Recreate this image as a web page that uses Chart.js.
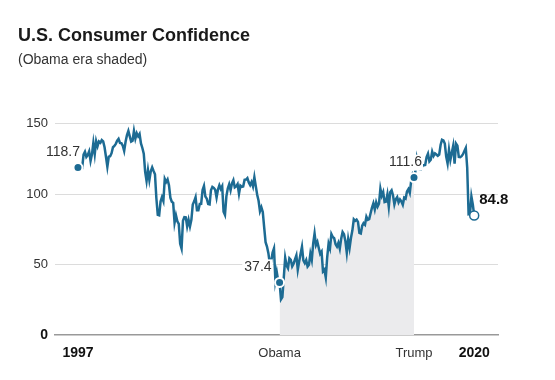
<!DOCTYPE html>
<html>
<head>
<meta charset="utf-8">
<script src="https://cdn.jsdelivr.net/npm/chart.js@4.4.1/dist/chart.umd.min.js"></script>
<style>
  body { margin: 0; background: #fff; }
  #wrap { width: 555px; height: 380px; }
</style>
</head>
<body>
<div id="wrap"><canvas id="confChart"></canvas></div>
<script>
// Conference Board consumer confidence, monthly, Jan 1997 - Aug 2020
const startYear = 1997;
const confidence = [
  118.7, 118.9, 118.5, 118.5, 127.9, 129.9, 126.3, 127.6, 130.2, 123.4, 128.1, 136.2, // 1997
  128.3, 137.4, 133.8, 137.2, 136.3, 138.2, 137.2, 133.1, 126.4, 119.3, 126.4, 126.7, // 1998
  128.9, 133.1, 134.0, 135.5, 137.7, 139.0, 136.2, 136.0, 134.2, 130.5, 137.0, 141.7, // 1999
  144.7, 140.8, 137.1, 137.7, 144.7, 139.2, 143.0, 140.8, 142.5, 135.8, 132.6, 128.6, // 2000
  115.7, 109.2, 116.9, 109.9, 116.1, 118.9, 116.3, 114.0, 97.0, 85.3, 84.9, 94.6,      // 2001
  97.8, 95.0, 110.7, 108.5, 110.3, 106.3, 97.4, 94.5, 93.7, 79.6, 84.9, 80.7,          // 2002
  78.8, 64.8, 61.4, 81.0, 83.6, 83.5, 77.0, 81.7, 77.0, 81.7, 92.5, 94.8,              // 2003
  97.7, 88.5, 88.5, 93.0, 93.1, 102.8, 105.7, 98.2, 96.7, 92.9, 92.6, 102.7,           // 2004
  105.1, 104.4, 103.0, 97.5, 103.1, 106.2, 103.6, 105.5, 87.5, 85.2, 98.3, 103.8,      // 2005
  106.8, 102.7, 107.5, 109.8, 104.7, 105.4, 107.0, 100.2, 105.9, 105.1, 105.3, 110.0,  // 2006
  110.2, 111.2, 108.2, 106.3, 108.5, 105.3, 111.9, 105.6, 99.5, 95.2, 87.8, 90.6,      // 2007
  87.3, 76.4, 65.9, 62.8, 58.1, 51.0, 51.9, 58.5, 61.4, 38.8, 44.7, 38.6,              // 2008
  37.4, 25.3, 26.9, 40.8, 54.8, 49.3, 47.4, 54.5, 53.4, 48.7, 50.6, 53.6,              // 2009
  56.5, 46.4, 52.3, 57.7, 62.7, 52.9, 51.0, 53.2, 48.6, 49.9, 57.8, 53.3,              // 2010
  64.8, 72.0, 63.8, 66.0, 61.7, 57.6, 59.2, 45.2, 46.4, 40.9, 55.2, 64.8,              // 2011
  61.5, 71.6, 69.5, 68.7, 64.4, 62.7, 65.4, 61.3, 68.4, 73.1, 71.5, 66.7,              // 2012
  58.4, 68.0, 61.9, 69.0, 74.3, 82.1, 81.0, 81.8, 80.2, 72.4, 72.0, 77.5,              // 2013
  79.4, 78.3, 83.9, 81.7, 82.2, 86.4, 90.3, 93.4, 89.0, 94.1, 91.0, 93.1,              // 2014
  103.8, 98.8, 101.4, 94.3, 94.6, 99.8, 91.0, 101.3, 102.6, 99.1, 92.6, 96.3,          // 2015
  97.8, 94.0, 96.1, 94.7, 92.4, 97.4, 96.7, 101.8, 103.5, 100.8, 109.4, 113.7,         // 2016
  111.6, 116.1, 124.9, 119.4, 117.6, 117.3, 120.0, 120.4, 120.6, 126.2, 128.6, 123.1,  // 2017
  124.3, 130.0, 127.0, 128.8, 128.0, 127.1, 127.9, 134.7, 138.4, 137.9, 135.7, 126.6,  // 2018
  121.7, 131.4, 124.2, 129.2, 134.1, 121.5, 135.7, 134.2, 126.3, 126.1, 126.8, 128.2,  // 2019
  130.4, 132.6, 118.8, 85.7, 85.9, 98.3, 92.6, 84.8                                    // 2020
];

// months since Jan 1997
const obamaStart = 144;   // Jan 2009
const trumpStart = 240;   // Jan 2017
const lastMonth = confidence.length - 1;

const tickMonths = [0, obamaStart, trumpStart, lastMonth];
const tickLabels = ["1997", "Obama", "Trump", "2020"];
const boldTicks = ["1997", "2020"];

const calloutMonths = [0, obamaStart, trumpStart, lastMonth];

const yTicks = [0, 50, 100, 150];

const lineColor = "#1d6b93";
const fontFamily = "'Liberation Sans', Arial, sans-serif";

let linePoints = confidence.map((v, i) => ({ x: i, y: v }));
let shadePoints = confidence.map((v, i) => ({ x: i, y: (i >= obamaStart && i <= trumpStart) ? v : null }));

// labels next to the highlighted points
const calloutPlugin = {
  id: "callouts",
  afterDatasetsDraw(chart) {
    let ctx = chart.ctx;
    let xs = chart.scales.x, ys = chart.scales.y;
    calloutMonths.forEach(m => {
      let v = confidence[m];
      let px = xs.getPixelForValue(m), py = ys.getPixelForValue(v);
      let text = v.toFixed(1);
      let isLast = m === lastMonth;
      ctx.save();
      ctx.font = isLast ? "bold 15px " + fontFamily : "14px " + fontFamily;
      ctx.textBaseline = "middle";
      let w = ctx.measureText(text).width;
      let tx, ty;
      if (isLast) { tx = px + 5; ty = py - 16; }
      else if (m === 0) { tx = px + 2 - w; ty = py - 15; }
      else if (m === obamaStart) { tx = px - 8 - w; ty = py - 15; }
      else { tx = px + 8 - w; ty = py - 15; }
      if (m === obamaStart || m === trumpStart) {
        ctx.fillStyle = "#fff";
        ctx.fillRect(tx - 2, ty - 8, w + 3, 16);
      }
      ctx.fillStyle = isLast ? "#111" : "#333";
      ctx.textAlign = "left";
      ctx.fillText(text, tx, ty);
      ctx.restore();
    });
  }
};

new Chart(document.getElementById("confChart").getContext("2d"), {
  type: "line",
  data: {
    datasets: [
      {
        label: "Confidence",
        data: linePoints,
        borderColor: lineColor,
        borderWidth: 2.5,
        tension: 0,
        fill: false,
        order: 1,
        pointRadius: c => calloutMonths.includes(c.dataIndex) ? 4.5 : 0,
        pointBackgroundColor: c => c.dataIndex === lastMonth ? "#fff" : lineColor,
        pointBorderColor: c => c.dataIndex === lastMonth ? lineColor : "#fff",
        pointBorderWidth: c => c.dataIndex === lastMonth ? 1.5 : 2
      },
      {
        label: "Obama era",
        data: shadePoints,
        borderWidth: 0,
        pointRadius: 0,
        backgroundColor: "#ebebed",
        fill: "origin",
        spanGaps: false,
        order: 2
      }
    ]
  },
  options: {
    responsive: true,
    maintainAspectRatio: false,
    animation: false,
    layout: { padding: { left: 18, right: 57, bottom: 8 } },
    plugins: {
      legend: { display: false },
      tooltip: { enabled: false },
      title: {
        display: true,
        text: "U.S. Consumer Confidence",
        align: "start",
        color: "#1a1a1a",
        font: { family: fontFamily, size: 18, weight: "bold" },
        padding: { top: 25, bottom: 5 }
      },
      subtitle: {
        display: true,
        text: "(Obama era shaded)",
        align: "start",
        color: "#333",
        font: { family: fontFamily, size: 14 },
        padding: { top: 0, bottom: 55 }
      }
    },
    scales: {
      x: {
        type: "linear",
        min: -16.4,
        max: 300,
        z: 1,
        grid: { display: false, drawTicks: false },
        border: { display: true, color: "#999", width: 1.5 },
        afterBuildTicks: scale => { scale.ticks = tickMonths.map(v => ({ value: v })); },
        ticks: {
          padding: 10,
          color: c => boldTicks.includes(tickLabels[c.index]) ? "#111" : "#333",
          font: c => boldTicks.includes(tickLabels[c.index])
            ? { family: fontFamily, size: 14, weight: "bold" }
            : { family: fontFamily, size: 13 },
          maxRotation: 0,
          autoSkip: false,
          callback: (v, i) => tickLabels[i]
        }
      },
      y: {
        min: 0,
        max: 150,
        afterBuildTicks: scale => { scale.ticks = yTicks.map(v => ({ value: v })); },
        afterFit: scale => { scale.width = 37; },
        grid: {
          drawTicks: false,
          color: c => c.tick && c.tick.value === 0 ? "rgba(0,0,0,0)" : "#dcdcdc",
          lineWidth: 1
        },
        border: { display: false },
        ticks: {
          padding: 7,
          color: c => c.tick && c.tick.value === 0 ? "#111" : "#333",
          font: c => c.tick && c.tick.value === 0
            ? { family: fontFamily, size: 14, weight: "bold" }
            : { family: fontFamily, size: 13 }
        }
      }
    }
  },
  plugins: [calloutPlugin]
});
</script>
</body>
</html>
